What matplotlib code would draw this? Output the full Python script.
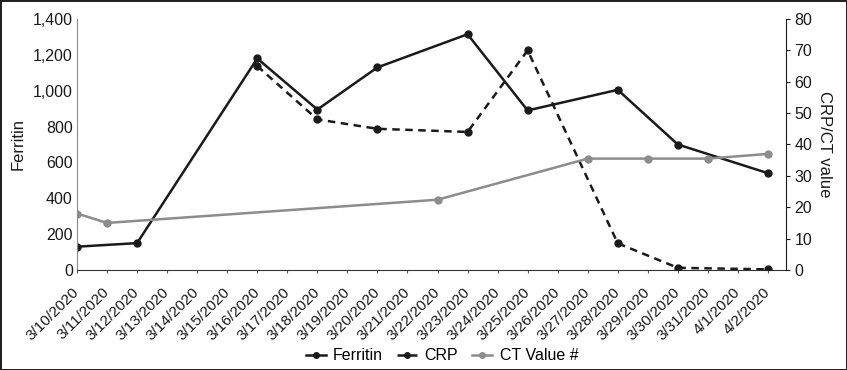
import matplotlib.pyplot as plt
import numpy as np

plt.rcParams['font.family'] = ['Liberation Sans', 'DejaVu Sans']

# dates on the x axis
dates = ['3/10/2020', '3/11/2020', '3/12/2020', '3/13/2020', '3/14/2020', '3/15/2020',
         '3/16/2020', '3/17/2020', '3/18/2020', '3/19/2020', '3/20/2020', '3/21/2020',
         '3/22/2020', '3/23/2020', '3/24/2020', '3/25/2020', '3/26/2020', '3/27/2020',
         '3/28/2020', '3/29/2020', '3/30/2020', '3/31/2020', '4/1/2020', '4/2/2020']

# Ferritin (left axis)
ferritin_dates = ['3/10/2020', '3/12/2020', '3/16/2020', '3/18/2020', '3/20/2020',
                  '3/23/2020', '3/25/2020', '3/28/2020', '3/30/2020', '4/2/2020']
ferritin = [130, 150, 1180, 895, 1130, 1315, 890, 1005, 700, 540]

# CRP (right axis)
crp_dates = ['3/16/2020', '3/18/2020', '3/20/2020', '3/23/2020', '3/25/2020',
             '3/28/2020', '3/30/2020', '4/2/2020']
crp = [65, 48, 45, 44, 70, 8.5, 0.7, 0.2]

# CT value (right axis)
ct_dates = ['3/10/2020', '3/11/2020', '3/22/2020', '3/27/2020', '3/29/2020',
            '3/31/2020', '4/2/2020']
ct = [18, 15, 22.4, 35.5, 35.5, 35.5, 37]

pos = {d: i for i, d in enumerate(dates)}
x_fer = [pos[d] for d in ferritin_dates]
x_crp = [pos[d] for d in crp_dates]
x_ct = [pos[d] for d in ct_dates]

fig = plt.figure(figsize=(8.47, 3.70), dpi=100, edgecolor='#222222', linewidth=2)
ax = fig.add_axes([77 / 847, 1 - 270 / 370, 709 / 847, 251 / 370])
ax2 = ax.twinx()

grey = '#8c8c8c'
dark = '#1a1a1a'
l1, = ax.plot(x_fer, ferritin, color=dark, lw=1.8, marker='o', ms=5, label='Ferritin')
l2, = ax2.plot(x_crp, crp, color=dark, lw=1.8, ls=(0, (3, 2.2)), marker='o', ms=5, label='CRP')
l3, = ax2.plot(x_ct, ct, color=grey, lw=1.8, marker='o', ms=5, label='CT Value #')

ax.set_xlim(0, 23.6)
ax.set_ylim(0, 1400)
ax2.set_ylim(0, 80)
ax.set_yticks(np.arange(0, 1401, 200))
ax.set_yticklabels([f'{v:,}' for v in range(0, 1401, 200)])
ax2.set_yticks(np.arange(0, 81, 10))

ax.set_xticks(range(len(dates)))
ax.set_xticklabels(dates, rotation=45, ha='right', va='center', rotation_mode='anchor')

for a in (ax, ax2):
    a.spines['top'].set_visible(False)
ax.spines['right'].set_visible(False)
ax2.spines['left'].set_visible(False)
ax2.spines['bottom'].set_visible(False)
ax.spines['left'].set_color(grey)
ax.spines['bottom'].set_color('#333333')
ax2.spines['right'].set_color(dark)

ax.tick_params(axis='y', length=0, pad=3, labelsize=11.5, colors=dark)
ax.tick_params(axis='x', length=2.5, color='#555555', pad=12, labelsize=11, labelcolor=dark)
ax2.tick_params(axis='y', length=3, color=dark, pad=3, labelsize=11.5, labelcolor=dark)

ax.set_ylabel('Ferritin', fontsize=12, color=dark, labelpad=5)
ax2.set_ylabel('CRP/CT value', fontsize=12, color=dark, rotation=270, labelpad=14)

fig.legend(handles=[l1, l2, l3], loc='center', bbox_to_anchor=(442 / 847, 1 - 356 / 370),
           ncol=3, frameon=False, fontsize=11.5, handlelength=1.25, handletextpad=0.45,
           columnspacing=0.9, markerscale=0.8)

fig.savefig('out.png', dpi=100)
